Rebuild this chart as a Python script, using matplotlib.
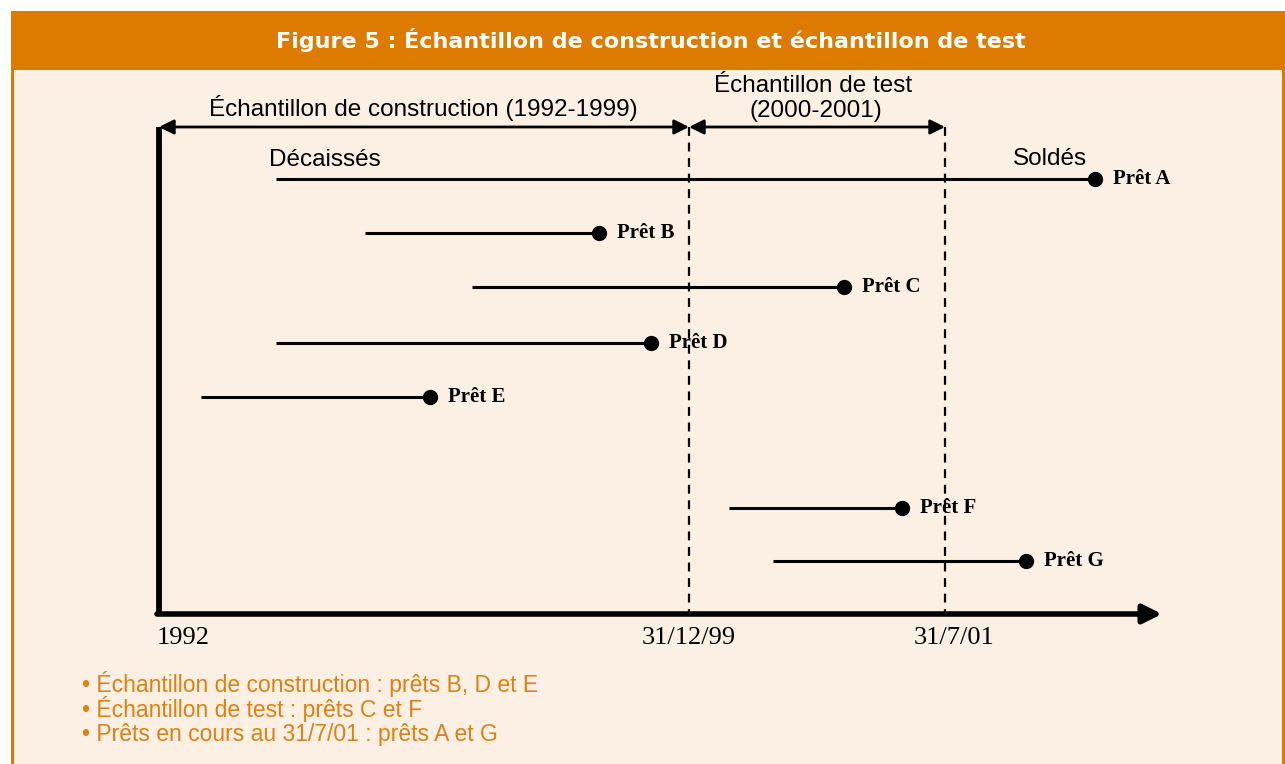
import matplotlib.pyplot as plt
from matplotlib.patches import Rectangle

# Schematic timeline, positions (pixel-like units)
loans = ['Prêt A', 'Prêt B', 'Prêt C', 'Prêt D', 'Prêt E', 'Prêt F', 'Prêt G']
starts = [276, 365, 472, 276, 201, 729, 773]
ends = [1095, 599, 844, 651, 430, 902, 1026]
rows = [179, 233, 287, 343, 397, 508, 561]

tick_pos = [157, 689, 954]
tick_labels = ['1992', '31/12/99', '31/7/01']
cutoffs = [689, 945]  # 31/12/99 and 31/7/01

notes = ['• Échantillon de construction : prêts B, D et E',
         '• Échantillon de test : prêts C et F',
         '• Prêts en cours au 31/7/01 : prêts A et G']

orange = '#DD7B00'
cream = '#FCF0E4'
text_orange = '#E07F12'

fig = plt.figure(figsize=(12.85, 7.64), dpi=100)
ax = fig.add_axes([0, 0, 1, 1])
ax.set_xlim(0, 1285)
ax.set_ylim(764, 0)
ax.axis('off')

# panel and header
ax.add_patch(Rectangle((12, 68), 1271, 710, facecolor=cream, edgecolor=orange, lw=2.2))
ax.add_patch(Rectangle((11, 11), 1280, 57, facecolor=orange, edgecolor='none'))
ax.text(651, 40, 'Figure 5 : Échantillon de construction et échantillon de test',
        ha='center', va='center', color='white', fontsize=16, fontweight='bold',
        family='DejaVu Sans')

# axes of the diagram
y_axis_top, y_axis_bot = 127, 614
ax.plot([159, 159], [y_axis_top, y_axis_bot + 2], color='black', lw=4.2, solid_capstyle='butt')
ax.annotate('', xy=(1162, y_axis_bot), xytext=(157, y_axis_bot),
            arrowprops=dict(arrowstyle='-|>', color='black', lw=4, mutation_scale=28,
                            shrinkA=0, shrinkB=0))

# cutoff dashed lines
for c in cutoffs:
    ax.plot([c, c], [y_axis_top, y_axis_bot], color='black', lw=1.6, dashes=(4, 3))

# period arrows
ax.annotate('', xy=(689, 127), xytext=(159, 127),
            arrowprops=dict(arrowstyle='<|-|>', color='black', lw=2, mutation_scale=22,
                            shrinkA=0, shrinkB=0))
ax.annotate('', xy=(945, 127), xytext=(689, 127),
            arrowprops=dict(arrowstyle='<|-|>', color='black', lw=2, mutation_scale=22,
                            shrinkA=0, shrinkB=0))
lab_font = dict(fontsize=17.5, family='Liberation Sans', ha='center', va='center')
ax.text(423, 108, 'Échantillon de construction (1992-1999)', **lab_font)
ax.text(813, 86, 'Échantillon de test', **lab_font)
ax.text(816, 111, '(2000-2001)', **lab_font)
ax.text(325, 160, 'Décaissés', **lab_font)
ax.text(1050, 159, 'Soldés', **lab_font)

# loans
for name, s, e, y in zip(loans, starts, ends, rows):
    ax.plot([s, e], [y, y], color='black', lw=2.2, solid_capstyle='butt')
    ax.plot(e, y, 'o', color='black', markersize=10)
    ax.text(e + 18, y, name, ha='left', va='center', fontsize=15,
            fontweight='bold', family='Liberation Serif')

# tick labels
ax.text(tick_pos[0], 638, tick_labels[0], ha='left', va='center', fontsize=19,
        family='Liberation Serif')
for p, lab in zip(tick_pos[1:], tick_labels[1:]):
    ax.text(p, 638, lab, ha='center', va='center', fontsize=19, family='Liberation Serif')

# notes
for i, n in enumerate(notes):
    ax.text(82, 684 + i * 25.5, n, ha='left', va='center', fontsize=16.5,
            color=text_orange, family='Liberation Sans')

fig.savefig('out.png', dpi=100, facecolor='white')
